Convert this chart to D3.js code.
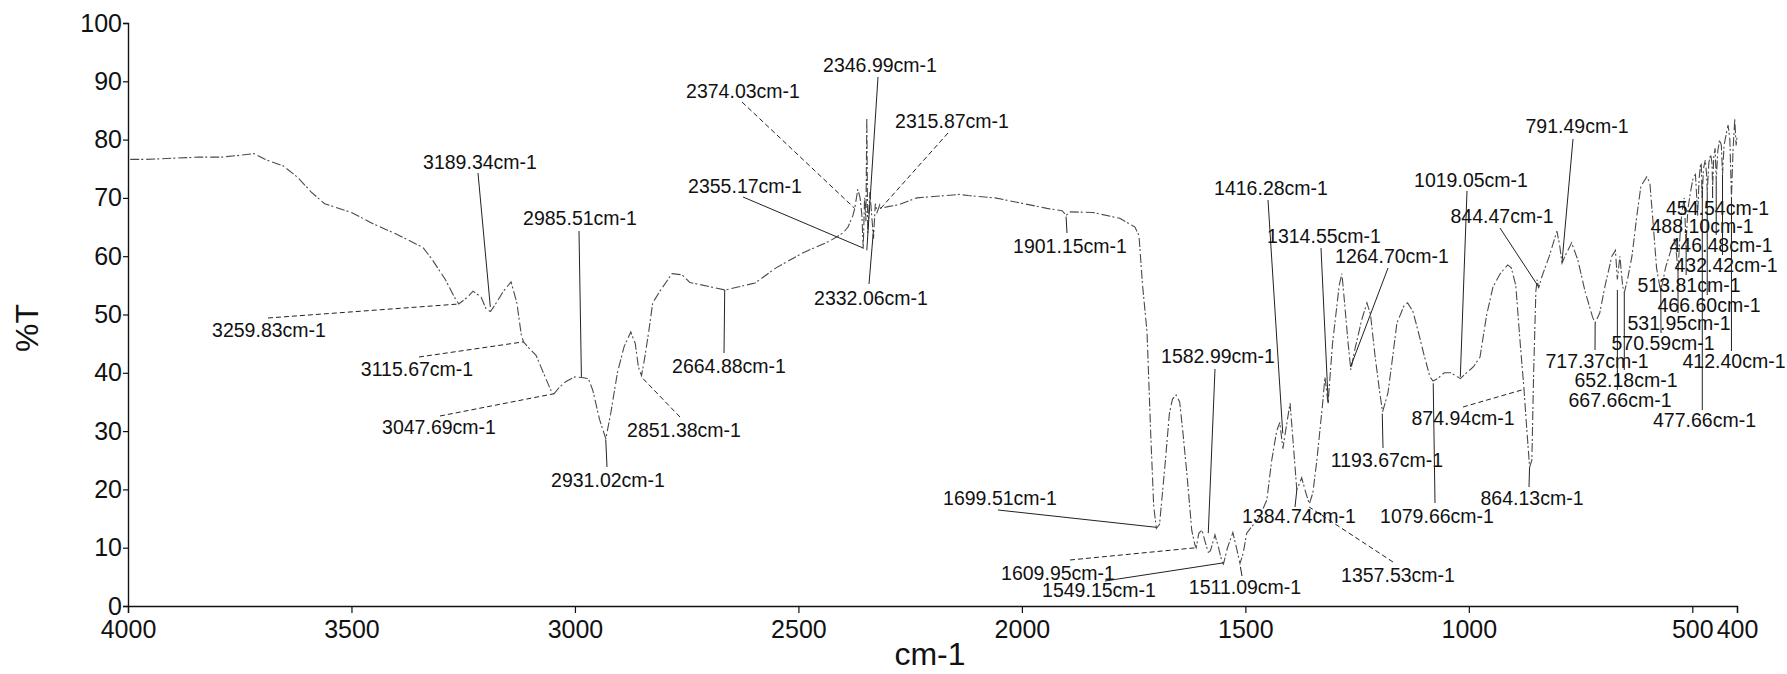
<!DOCTYPE html>
<html>
<head>
<meta charset="utf-8">
<script src="https://cdnjs.cloudflare.com/ajax/libs/d3/7.8.5/d3.min.js"></script>
<style>
body { margin: 0; background: #fff; }
svg { display: block; font-family: "Liberation Sans", Arial, sans-serif; }
</style>
</head>
<body>
<div class="ir"></div>
<script>
// spectrum: [wavenumber cm-1, %T]
var spectrum = [
  [3995,76.6],[3960,76.6],[3900,76.8],[3840,77],[3790,77],[3750,77.3],[3718,77.6],[3690,76.5],
  [3653,75.5],[3620,73.5],[3590,71],[3560,69],[3500,67.5],[3450,65.5],[3400,63.8],[3340,61.5],
  [3320,59.5],[3290,56],[3270,53],[3260,51.8],[3240,53],[3228,54],[3210,53],[3199,51],[3189,50.5],
  [3180,51.5],[3160,54],[3143,55.6],[3130,52],[3120,46.5],[3115,45.3],[3100,44],[3087,43],
  [3065,39],[3054,37],[3047,36.4],[3035,37.5],[3020,38.5],[3000,39.3],[2985,39.2],[2970,39],
  [2960,37],[2945,32],[2931,28.7],[2920,33],[2905,40],[2890,44.5],[2875,47],[2865,45],[2858,41],
  [2851,39.5],[2843,43],[2835,47],[2826,52],[2810,54],[2783,57],[2760,56.8],[2743,55.5],
  [2700,54.8],[2664,54.2],[2620,55],[2597,55.4],[2550,58],[2492,60.5],[2430,62.6],[2400,64],
  [2389,65],[2378,67],[2374,68.2],[2367,71.5],[2362,70],[2358,67],[2355,61.3],[2352,70],
  [2349,66],[2347,83.7],[2345,64],[2340,71],[2336,67],[2332,63],[2328,69],[2324,67.5],
  [2318,68.8],[2316,68.2],[2300,68.5],[2277,68.8],[2235,70],[2140,70.6],[2120,70.4],[2060,70],
  [1982,68.8],[1944,68.2],[1910,67.8],[1901,67],[1893,67.6],[1841,67.5],[1781,66.5],[1747,65],
  [1738,63.5],[1730,55],[1720,47],[1712,30],[1705,17],[1699,13.3],[1692,14],[1680,24],
  [1670,33],[1663,35.5],[1655,36.2],[1647,35],[1640,30],[1630,22],[1620,13],[1613,10.5],
  [1610,10],[1604,12.5],[1597,13],[1590,11],[1583,9.2],[1578,9.5],[1568,12.2],[1560,10],
  [1553,7.8],[1549,7.2],[1540,10],[1528,12.6],[1520,10],[1512,7.3],[1505,9],[1497,12.5],
  [1486,13.6],[1470,15],[1452,18.2],[1441,25],[1430,30],[1423,31.5],[1416,27],[1410,30],
  [1400,34.8],[1393,28],[1385,20],[1379,21],[1374,22],[1365,19.5],[1357,17.5],[1349,19.4],
  [1340,25],[1327,34.8],[1322,39.3],[1315,34.8],[1305,45],[1290,55],[1284,57],[1278,52],
  [1270,45],[1264,40.5],[1255,44],[1240,49],[1228,52],[1220,50],[1210,43],[1200,37],
  [1193,33.3],[1181,36.5],[1170,43],[1161,48.5],[1145,51.5],[1137,52],[1125,50.5],[1116,47.9],
  [1100,43],[1087,39.3],[1080,38.6],[1070,39],[1055,40],[1040,40],[1025,39.3],[1019,39],
  [1005,40],[990,41],[975,42.7],[960,50],[946,54.7],[930,57],[913,58.5],[905,58],[895,55],
  [885,45],[877,37.6],[870,30],[864,23.8],[859,25],[855,40],[850,54],[847,56],[844,54.5],
  [837,56.4],[820,60],[803,64.3],[797,62],[791.5,58.8],[785,60],[770,62.3],[756,59.3],
  [740,54],[723,49.5],[717,48.6],[707,50.3],[695,55],[680,60],[672,61],[667.7,56],[662,60],
  [656,55],[652.2,53.7],[645,56],[635,60],[624,67],[615,72],[602,73.6],[595,72.6],[588,66],
  [580,58],[571,54],[565,56],[560,58],[554,59.5],[548,61],[540,63],[535,60],[532,57.5],
  [528,63],[524,67],[518,70],[514,62],[510,68],[504,71],[498,73.5],[493,74],[490,70],[488,67],
  [485,73],[482,75.5],[480,76],[478,70],[475,75],[471,76.5],[468,74],[466.6,71],[463,76],
  [459,77.5],[456,76],[454.5,72],[452,77],[449,78.5],[446.5,73],[443,78],[439,80],[435,79],
  [432.4,74],[429,79],[424,81],[420,82.5],[416,80],[412.4,70],[409,78],[405,83.5],[402,79],
  [400,80.5]
];

// picked peaks and the %T where each leader meets the trace
var peakWn = [3259.83, 3189.34, 3115.67, 3047.69, 2985.51, 2931.02, 2851.38, 2664.88,
  2374.03, 2355.17, 2346.99, 2332.06, 2315.87, 1901.15, 1699.51, 1609.95, 1582.99, 1549.15,
  1511.09, 1416.28, 1384.74, 1357.53, 1314.55, 1264.70, 1193.67, 1079.66, 1019.05, 874.94,
  864.13, 844.47, 791.49, 717.37, 667.66, 652.18, 570.59, 531.95, 513.81, 488.10, 477.66,
  466.60, 454.54, 446.48, 432.42, 412.40];
var peakT = [51.8, 51.3, 45.3, 36.4, 39.3, 28.5, 39.3, 54.2,
  68.2, 61.4, 61, 64.5, 68.2, 66.8, 13.5, 10, 12.5, 7.4,
  6.7, 29.6, 20, 17, 34.8, 41, 33, 38.2, 39.3, 37.2,
  23.8, 54.8, 59, 48.5, 54.2, 53.7, 55, 58, 62, 67, 72,
  71, 72, 73, 74, 70];

var xTicks = [4000, 3500, 3000, 2500, 2000, 1500, 1000, 500, 400];
var yTicks = [0, 10, 20, 30, 40, 50, 60, 70, 80, 90, 100];

// label placement on the page: [centre x, baseline y, leader start x, leader start y]
// a null start x means the leader drops straight down from the peak
var labelLayout = [
  [269,337,268,318],[480,169,478,173],[417,376,419,357],[439,434,440,416],[580,225,579,231],
  [608,487,607,467],[684,437,680,417],[729,373,724,353],[743,98,742,102],[745,193,743,197],
  [880,72,878,77],[871,305,869,284],[952,128,948,133],[1070,253,1067,233],[1000,505,998,510],
  [1058,580,1070,560],[1218,363,1215,369],[1099,597,1105,581],[1245,594,1242,576],
  [1271,195,1268,200],[1299,523,1295,507],[1398,582,1393,562],[1324,243,1321,248],
  [1392,263,1388,268],[1387,467,1383,448],[1437,523,1435,503],[1471,187,1467,191],
  [1463,425,1463,407],[1532,505,1529,487],[1502,223,1500,228],[1577,133,1573,139],
  [1597,368,1595,350],[1620,407,null,390],[1626,387,null,370],[1663,350,1661,333],
  [1679,330,1678,313],[1689,292,null,275],[1702,233,null,216],[1704.5,427,null,410],
  [1709,312,null,295],[1717.5,215,null,198],[1721,252,null,235],[1726,272,null,255],
  [1734,368,null,351]
];
// leaders that came out broken in the scan
var brokenLeaders = [3259.83, 3115.67, 3047.69, 2851.38, 2374.03, 2315.87, 1609.95, 1357.53, 874.94];

var svgx = 1787;
var svgy = 674;
var margin = {top: 23, right: 50, bottom: 68, left: 128};
var w = svgx - margin.left - margin.right;
var h = svgy - margin.top - margin.bottom;

var svg = d3.select(".ir").append("svg")
    .attr("width", svgx)
    .attr("height", svgy);
svg.append("rect").attr("width", svgx).attr("height", svgy).attr("fill", "#fff");

var plot = svg.append("g")
    .attr("transform", "translate(" + margin.left + "," + margin.top + ")");

var xscale = d3.scaleLinear().domain([4000, 400]).range([0, w]);
var yscale = d3.scaleLinear().domain([0, 100]).range([h, 0]);

// axes
var xaxis = d3.axisBottom(xscale).tickValues(xTicks).tickSize(7).tickPadding(7)
    .tickFormat(d3.format("d"));
var yaxis = d3.axisLeft(yscale).tickValues(yTicks).tickSize(5).tickPadding(1)
    .tickFormat(d3.format("d"));

var gx = plot.append("g").attr("transform", "translate(0," + h + ")").call(xaxis);
var gy = plot.append("g").call(yaxis);

[gx, gy].forEach(function(g) {
    g.attr("font-family", null).attr("font-size", null);
    g.selectAll("path").attr("stroke", "#111").attr("stroke-width", 1.4);
    g.selectAll("line").attr("stroke", "#111").attr("stroke-width", 1.2);
    g.selectAll("text").attr("fill", "#111").style("font-size", "25px");
});

// the trace, faint and broken like the scan
var line = d3.line()
    .x(function(d) { return xscale(d[0]); })
    .y(function(d) { return yscale(d[1]); });

plot.append("path")
    .datum(spectrum)
    .attr("fill", "none")
    .attr("stroke", "#4a4a4a")
    .attr("stroke-width", 1.1)
    .attr("stroke-dasharray", "9,2,2,3")
    .attr("d", line);

// peak leaders and labels
var notes = svg.append("g");
peakWn.forEach(function(wn, i) {
    var lay = labelLayout[i];
    var px = xscale(wn) + margin.left;
    var py = yscale(peakT[i]) + margin.top;
    var sx = lay[2] === null ? px : lay[2];
    notes.append("line")
        .attr("x1", sx).attr("y1", lay[3])
        .attr("x2", px).attr("y2", py)
        .attr("stroke", "#222")
        .attr("stroke-width", 1)
        .attr("stroke-dasharray", brokenLeaders.indexOf(wn) >= 0 ? "5,3" : null);
    notes.append("text")
        .attr("x", lay[0])
        .attr("y", lay[1])
        .attr("text-anchor", "middle")
        .attr("fill", "#111")
        .style("font-size", "19.5px")
        .text(wn.toFixed(2) + "cm-1");
});

// axis titles
svg.append("text")
    .attr("x", 930)
    .attr("y", 665)
    .attr("text-anchor", "middle")
    .attr("fill", "#111")
    .style("font-size", "32px")
    .text("cm-1");

svg.append("text")
    .attr("transform", "translate(38,328) rotate(-90)")
    .attr("text-anchor", "middle")
    .attr("fill", "#111")
    .style("font-size", "32px")
    .text("%T");
</script>
</body>
</html>
